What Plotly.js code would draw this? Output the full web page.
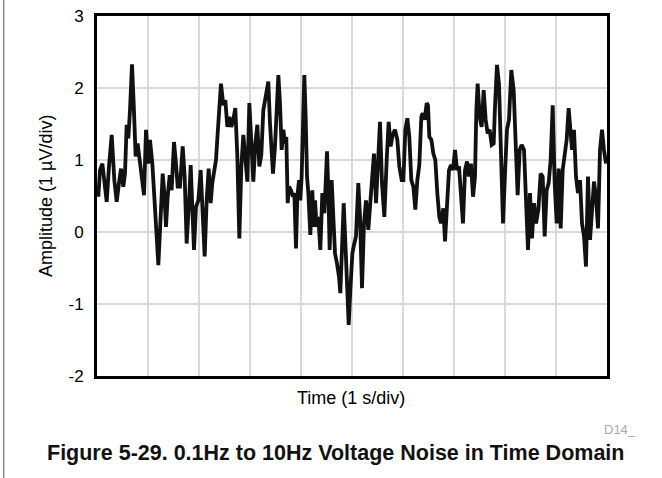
<!DOCTYPE html>
<html><head><meta charset="utf-8">
<script src="https://cdn.plot.ly/plotly-3.0.1.min.js"></script>
<style>body{margin:0;background:#fff}#c{width:662px;height:478px}</style>
</head><body><div id="c"></div>
<script>
const timeDiv = [0.026,0.059,0.105,0.144,0.190,0.235,0.288,0.340,0.386,0.431,0.471,0.516,0.549,0.582,0.614,0.647,0.686,0.719,0.758,0.797,0.843,0.876,0.922,0.961,1.007,1.039,1.085,1.124,1.170,1.203,1.242,1.288,1.320,1.353,1.386,1.425,1.464,1.510,1.549,1.582,
1.627,1.680,1.719,1.758,1.810,1.837,1.876,1.902,1.941,1.987,2.033,2.072,2.111,2.150,2.190,2.229,2.261,2.301,2.333,2.366,2.399,2.431,2.477,2.516,2.556,2.595,2.634,2.673,2.712,2.752,2.791,2.830,2.869,2.908,2.948,2.987,3.026,3.065,3.105,3.144,3.183,3.222,3.261,3.301,
3.359,3.392,3.425,3.451,3.490,3.529,3.556,3.588,3.621,3.654,3.686,3.712,3.739,3.765,3.804,3.843,3.869,3.902,3.928,3.961,3.987,4.013,4.039,4.065,4.092,4.118,4.144,4.183,4.222,4.248,4.275,4.307,4.340,4.379,4.418,4.458,4.484,4.510,4.536,4.562,4.601,4.627,4.667,4.706,4.745,4.771,4.810,4.837,4.876,4.902,4.935,4.967,5.007,
5.039,5.078,5.124,5.157,5.196,5.235,5.275,5.320,5.353,5.392,5.431,5.471,5.510,5.549,5.588,5.634,5.680,5.719,5.758,5.797,5.843,5.889,5.928,5.974,6.007,6.046,6.085,6.124,6.163,6.203,6.242,6.281,6.320,6.359,6.386,6.425,6.464,6.490,6.516,6.556,6.595,6.634,6.673,6.712,
6.745,6.791,6.824,6.863,6.902,6.941,6.980,7.020,7.059,7.098,7.137,7.176,7.216,7.255,7.294,7.333,7.373,7.412,7.438,7.464,7.503,7.542,7.582,7.621,7.660,7.699,7.739,7.778,7.804,7.843,7.882,7.922,7.961,8.000,8.039,8.078,8.124,8.170,8.209,8.248,8.288,8.327,
8.373,8.412,8.451,8.490,8.529,8.569,8.608,8.654,8.699,8.739,8.778,8.817,8.856,8.895,8.935,8.974,9.013,9.052,9.092,9.131,9.170,9.209,9.248,9.275,9.314,9.353,9.392,9.431,9.471,9.510,9.549,9.588,9.627,9.667,9.706,9.745,9.784,9.824,9.863,9.902,9.941,9.980];

const amplitude = [0.49,0.86,0.95,0.68,0.42,0.91,1.35,0.72,0.42,0.68,0.88,0.63,0.81,1.49,1.30,1.69,2.33,1.79,1.05,1.23,1.00,0.77,0.51,1.42,0.95,1.28,0.95,0.49,-0.16,-0.46,0.12,0.81,0.54,0.07,0.49,0.79,0.58,1.25,0.95,0.63,
0.63,1.19,0.77,-0.16,0.49,0.93,0.21,-0.25,0.35,0.44,0.86,0.31,-0.34,0.44,0.88,0.40,0.68,0.86,1.00,1.37,1.72,2.06,1.76,1.83,1.46,1.60,1.46,1.56,1.72,1.05,-0.09,0.91,1.35,1.00,0.70,1.79,1.19,0.70,1.23,1.49,0.91,1.07,1.69,1.88,
2.09,1.51,1.00,0.81,1.19,1.83,2.18,1.79,1.14,1.42,1.23,1.32,0.40,0.63,0.58,0.49,0.54,-0.23,0.49,0.72,0.44,0.77,1.60,2.18,1.60,0.77,0.54,-0.04,0.58,0.07,0.44,0.07,0.21,-0.25,0.54,0.26,0.68,1.12,0.58,-0.25,0.72,0.40,-0.30,-0.44,-0.62,-0.85,-0.06,0.40,-0.25,-0.81,-1.29,-0.81,-0.30,
-0.18,-0.06,0.68,0.21,-0.78,0.12,0.44,0.03,0.35,0.68,1.09,0.40,1.00,1.53,0.68,0.21,1.00,1.53,1.19,1.35,1.42,1.28,0.91,0.72,0.72,1.42,1.58,1.32,0.72,0.63,0.31,0.72,0.93,1.60,1.65,1.56,1.79,1.76,1.32,1.28,1.09,1.00,0.54,0.21,
0.12,0.33,-0.13,0.49,0.86,0.93,0.86,1.14,0.86,0.91,0.40,0.12,0.86,0.98,0.77,0.95,0.49,0.77,1.69,2.06,1.60,1.46,1.97,1.56,1.37,1.42,1.21,1.23,1.74,2.32,2.06,0.91,0.12,0.81,1.42,1.56,2.25,1.97,1.14,0.51,1.14,1.21,
1.14,0.49,-0.25,0.54,-0.09,0.40,0.12,0.31,0.81,0.77,-0.06,0.58,0.68,1.00,1.76,0.68,0.12,0.88,0.05,0.86,1.12,1.28,1.72,1.49,1.14,1.42,0.77,0.54,0.72,0.12,-0.06,-0.48,0.77,-0.11,0.31,0.70,0.49,0.05,1.14,1.42,1.14,0.95];

const yTickVals = [-2,-1,0,1,2,3];
const yTickText = ['-2','-1','0','1','2','3'];

const FONT = 'Liberation Sans, Arial, sans-serif';

Plotly.newPlot('c', [{
  x: timeDiv, y: amplitude, type: 'scatter', mode: 'lines',
  line: {color: '#111111', width: 3.8, shape: 'linear'},
  hoverinfo: 'skip'
}], {
  width: 662, height: 478,
  margin: {l: 97, r: 55, t: 16, b: 102},
  paper_bgcolor: '#ffffff', plot_bgcolor: '#ffffff',
  showlegend: false,
  font: {family: FONT, size: 16, color: '#000'},
  xaxis: {range: [0, 10], dtick: 1, tick0: 0, showticklabels: false, ticks: '',
    showgrid: true, gridcolor: '#d9d9d9', gridwidth: 1.2, zeroline: false,
    showline: true, linecolor: '#000', linewidth: 3, mirror: true, fixedrange: true},
  yaxis: {range: [-2, 3], tickvals: yTickVals, ticktext: yTickText, ticks: '',
    ticklabelstandoff: 7,
    showgrid: true, gridcolor: '#d9d9d9', gridwidth: 1.2, zeroline: false,
    showline: true, linecolor: '#000', linewidth: 3, mirror: true, fixedrange: true,
    tickfont: {family: FONT, size: 17, color: '#000'}},
  annotations: [
    {text: 'Time (1 s/div)', xref: 'paper', yref: 'paper', x: 0.498, y: -0.062, yanchor: 'middle', xanchor: 'center', showarrow: false, font: {family: FONT, size: 18, color: '#000'}},
    {text: 'Amplitude (1 \u00b5V/div)', xref: 'paper', yref: 'paper', x: -0.1, xanchor: 'center', y: 0.5, yanchor: 'middle', textangle: -90, showarrow: false, font: {family: FONT, size: 18, color: '#000'}},
    {text: 'D14_', xref: 'paper', yref: 'paper', x: 0.99, xanchor: 'left', y: -0.15, yanchor: 'middle', showarrow: false, font: {family: FONT, size: 13, color: '#aaaaaa'}},
    {text: '<b>Figure 5-29. 0.1Hz to 10Hz Voltage Noise in Time Domain</b>', xref: 'paper', yref: 'paper', x: 0.468, xanchor: 'center', y: -0.214, yanchor: 'middle', showarrow: false, font: {family: FONT, size: 21.5, color: '#111'}}
  ],
  shapes: [
    {type: 'line', xref: 'paper', yref: 'paper', x0: -0.183, x1: -0.183, y0: -0.283, y1: 1.045, line: {color: '#888', width: 1.5}}
  ]
}, {displayModeBar: false, staticPlot: true});
</script></body></html>
